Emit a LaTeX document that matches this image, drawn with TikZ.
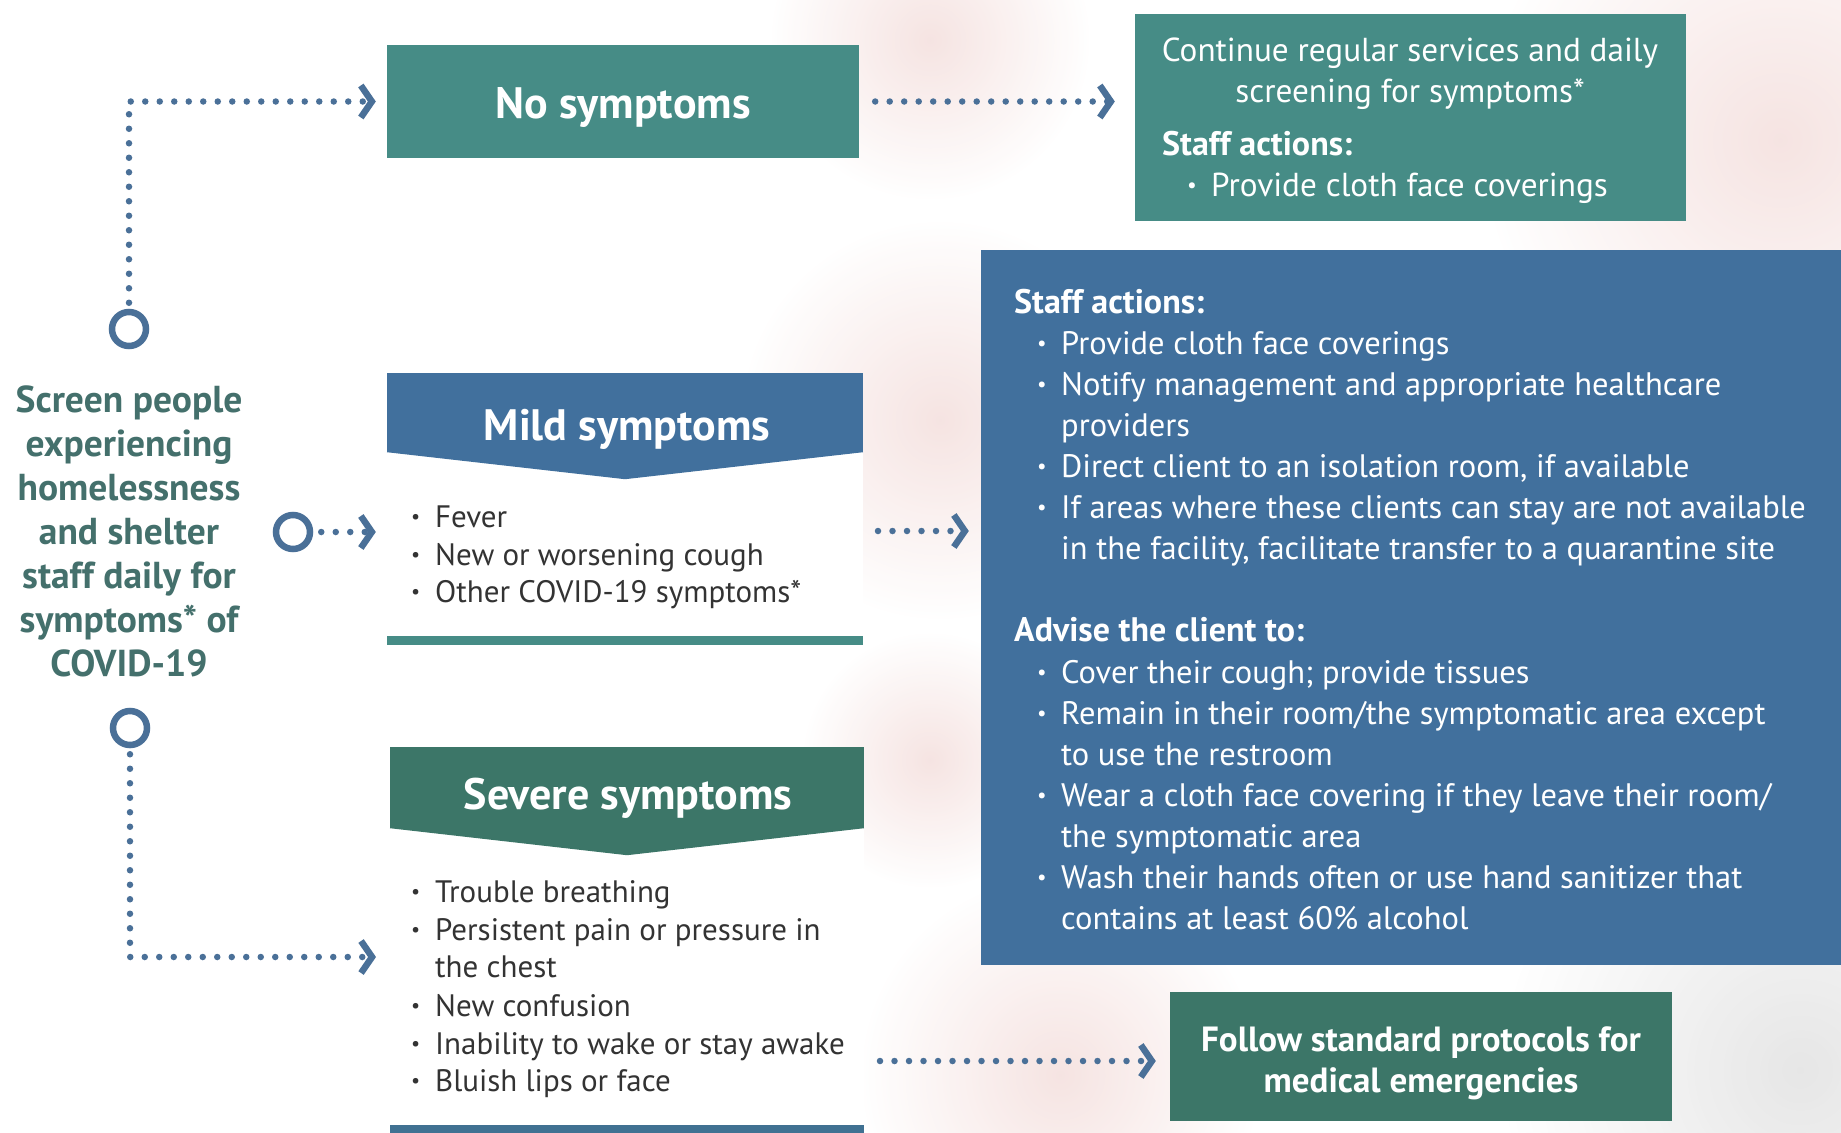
\documentclass[tikz,border=0pt]{standalone}
\usepackage{fontspec}
\setmainfont{PT Sans}
\usetikzlibrary{arrows.meta}
\definecolor{tealA}{HTML}{468C86}
\definecolor{blueA}{HTML}{41709D}
\definecolor{tealB}{HTML}{3C7668}
\definecolor{leftc}{HTML}{44706C}
\definecolor{dotc}{HTML}{4A7098}
\definecolor{bodyc}{HTML}{333333}
\definecolor{pinkbg}{HTML}{EBC3BF}
\definecolor{greybg}{HTML}{D6D6D6}
\newcommand{\bul}{\makebox[24pt][l]{\raisebox{0.1em}{\scalebox{0.65}{•}}}}
\newcommand{\fs}[1]{\fontsize{#1}{#1}\selectfont}
\begin{document}
\begin{tikzpicture}[x=1pt,y=-1pt,
  dotline/.style={draw=dotc, line width=6.5pt, line cap=round, dash pattern=on 0pt off 14.5pt},
  arr/.style={dotline, -{Straight Barb[length=11pt,width=32pt,line width=6.5pt]}},
  ring/.style={circle, draw=dotc, line width=6.5pt, minimum size=34pt, inner sep=0pt},
  wt/.style={anchor=base west, inner sep=0pt, text=white, font=\fs{32.5}},
  wb/.style={anchor=base west, inner sep=0pt, text=white, font=\bfseries\fs{34}},
  bt/.style={anchor=base west, inner sep=0pt, text=bodyc, font=\fs{31}},
  lt/.style={anchor=base, inner sep=0pt, text=leftc, font=\bfseries\fs{37.5}},
  ttl/.style={inner sep=0pt, text=white, font=\bfseries\fs{44}},
  box/.style={inner sep=0pt},
  pblob/.style={inner color=pinkbg, outer color=white, opacity=0.45},
  gblob/.style={inner color=greybg, outer color=white, opacity=0.6}
]
\useasboundingbox (0,0) rectangle (1841,1132);
\fill[white] (0,0) rectangle (1841,1132);
% faint background wash (non-overlapping soft spots)
\shade[pblob] (930,40) circle (160);
\shade[pblob] (1780,140) circle (300);
\shade[pblob] (940,420) circle (200);
\shade[pblob] (930,760) circle (128);
\shade[gblob] (1800,1070) circle (300);
\shade[pblob] (1060,1075) circle (200);

% boxes
\node[box, fill=tealA, minimum width=472pt, minimum height=113pt] (nosym) at (623,101.5) {};
\node[ttl, anchor=base] (nosymt) at (623,118) {No symptoms};

\node[box, fill=tealA, minimum width=551pt, minimum height=207pt] (cont) at (1410.5,117.5) {};
\node[wt, anchor=base, font=\fs{33.2}] (c1) at (1410,62) {Continue regular services and daily};
\node[wt, anchor=base, font=\fs{33.2}] (c2) at (1410,102) {screening for symptoms*};
\node[wb] (c3) at (1162,155) {Staff actions:};
\node[wt, font=\fs{33.2}] (c4) at (1187,196) {\bul Provide cloth face coverings};

\node[box, fill=blueA, minimum width=860pt, minimum height=715pt] (blue) at (1411,607.5) {};
\node[wb] (b0) at (1014,313) {Staff actions:};
\node[wt] (b1) at (1037,354) {\bul Provide cloth face coverings};
\node[wt] (b2) at (1037,395) {\bul Notify management and appropriate healthcare};
\node[wt] (b3) at (1061,436) {providers};
\node[wt] (b4) at (1037,477) {\bul Direct client to an isolation room, if available};
\node[wt] (b5) at (1037,518) {\bul If areas where these clients can stay are not available};
\node[wt] (b6) at (1061,559) {in the facility, facilitate transfer to a quarantine site};
\node[wb] (a0) at (1014,641) {Advise the client to:};
\node[wt] (a1) at (1037,683) {\bul Cover their cough; provide tissues};
\node[wt] (a2) at (1037,724) {\bul Remain in their room/the symptomatic area except};
\node[wt] (a3) at (1061,765) {to use the restroom};
\node[wt] (a4) at (1037,806) {\bul Wear a cloth face covering if they leave their room/};
\node[wt] (a5) at (1061,847) {the symptomatic area};
\node[wt] (a6) at (1037,888) {\bul Wash their hands often or use hand sanitizer that};
\node[wt] (a7) at (1061,929) {contains at least 60\% alcohol};

\node[box, fill=tealB, minimum width=502pt, minimum height=129pt] (follow) at (1421,1056.5) {};
\node[wb, anchor=base, font=\bfseries\fs{35}] (f1) at (1421,1051) {Follow standard protocols for};
\node[wb, anchor=base, font=\bfseries\fs{35}] (f2) at (1421,1092) {medical emergencies};

% left text
\node[lt] (l1) at (129,412) {Screen people};
\node[lt] (l2) at (129,456) {experiencing};
\node[lt] (l3) at (129,500) {homelessness};
\node[lt] (l4) at (129,544) {and shelter};
\node[lt] (l5) at (129,588) {staff daily for};
\node[lt] (l6) at (129,632) {symptoms* of};
\node[lt] (l7) at (129,676) {COVID-19};

% mild
\node[box, fill=white, minimum width=476pt, minimum height=184pt] (mildb) at (625,544) {};
\fill[tealA] (mildb.south west) rectangle ([yshift=-9pt]mildb.south east);
\node[box, fill=blueA, minimum width=476pt, minimum height=79pt] (mildh) at (625,412.5) {};
\fill[blueA] (mildh.south west) -- ([yshift=-27pt]mildh.south) -- (mildh.south east) -- cycle;
\node[ttl, anchor=base] (mildt) at (627,440) {Mild symptoms};
\node[bt] (m1) at (411,527) {\bul Fever};
\node[bt] (m2) at (411,565) {\bul New or worsening cough};
\node[bt] (m3) at (411,602) {\bul Other COVID-19 symptoms*};

% severe
\node[box, fill=white, minimum width=474pt, minimum height=297pt] (sevb) at (627,976.5) {};
\fill[blueA!80!tealB] (sevb.south west) rectangle ([yshift=-9pt]sevb.south east);
\node[box, fill=tealB, minimum width=474pt, minimum height=81pt] (sevh) at (627,787.5) {};
\fill[tealB] (sevh.south west) -- ([yshift=-27pt]sevh.south) -- (sevh.south east) -- cycle;
\node[ttl, anchor=base] (sevt) at (628,809) {Severe symptoms};
\node[bt] (s1) at (411,902) {\bul Trouble breathing};
\node[bt] (s2) at (411,940) {\bul Persistent pain or pressure in};
\node[bt] (s3) at (435,977) {the chest};
\node[bt] (s4) at (411,1016) {\bul New confusion};
\node[bt] (s5) at (411,1054) {\bul Inability to wake or stay awake};
\node[bt] (s6) at (411,1091) {\bul Bluish lips or face};

% rings
\node[ring] (r1) at (129,329) {};
\node[ring] (r2) at (293,532) {};
\node[ring] (r3) at (130,728) {};
\coordinate (sevin) at (376,957);
\coordinate (mildout) at (878,531);
\coordinate (sevout) at (880,1061);

% connectors
\draw[arr] ([yshift=6pt]r1.north) |- ([xshift=-11pt]nosym.west);
\draw[arr] ([xshift=16pt]nosym.east) -- ([xshift=-20pt]nosym.east -| cont.west);
\draw[arr] ([xshift=8pt]r2.east) -- ([xshift=-11pt]r2.east -| mildb.west);
\draw[arr] (mildout) -- ([xshift=-12pt]mildout -| blue.west);
\draw[arr] ([yshift=-6pt]r3.south) |- (sevin);
\draw[arr] (sevout) -- ([xshift=-14pt]sevout -| follow.west);
\end{tikzpicture}
\end{document}
